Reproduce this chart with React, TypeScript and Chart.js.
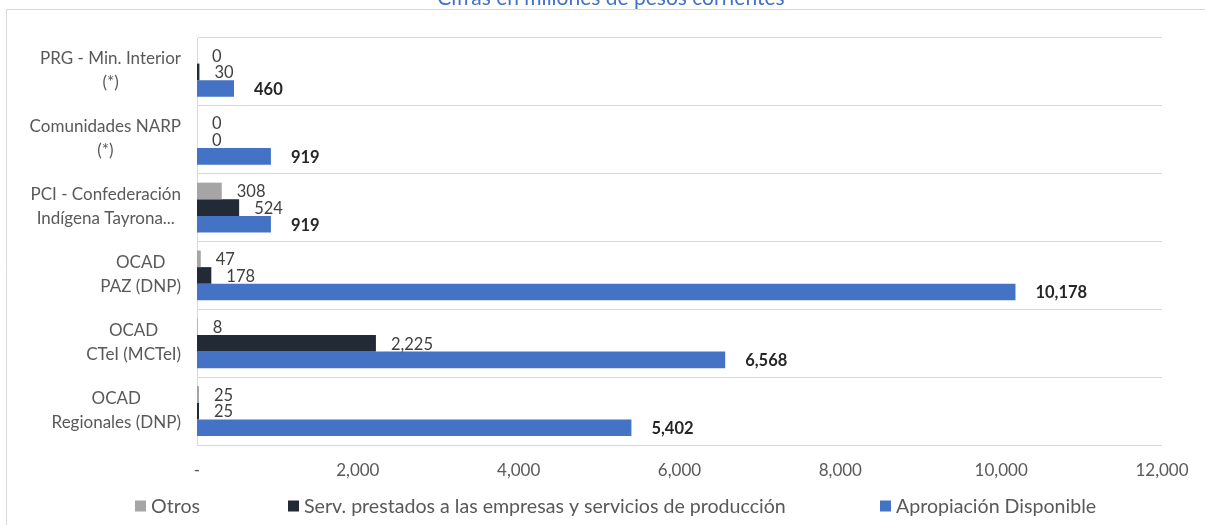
import React, { useEffect, useRef } from 'react';
import { Chart, registerables } from 'chart.js';

Chart.register(...registerables);

const chartTitle = 'Cifras en millones de pesos corrientes';
const categories: string[][] = [
  ['PRG - Min. Interior', '(*)'],
  ['Comunidades NARP', '(*)'],
  ['PCI - Confederación', 'Indígena Tayrona...'],
  ['OCAD', 'PAZ (DNP)'],
  ['OCAD', 'CTeI (MCTeI)'],
  ['OCAD', 'Regionales (DNP)'],
];
const seriesNames = [
  'Otros',
  'Serv. prestados a las empresas y servicios de producción',
  'Apropiación Disponible',
];
const otros = [0, 0, 308, 47, 8, 25];
const servicios = [30, 0, 524, 178, 2225, 25];
const apropiacion = [460, 919, 919, 10178, 6568, 5402];
const xMin = 0;
const xMax = 12000;
const xStep = 2000;

const seriesColors = ['#A5A5A5', '#222A35', '#4472C4'];
const FONT = 'Lato';

const fmt = (v: number) => (v === 0 ? '-' : v.toLocaleString('en-US'));

const framePlugin = {
  id: 'framePlugin',
  beforeDraw(chart: any) {
    const { ctx, width, height } = chart;
    ctx.save();
    ctx.fillStyle = '#FFFFFF';
    ctx.fillRect(0, 0, width, height);
    ctx.strokeStyle = '#D9D9D9';
    ctx.lineWidth = 1;
    ctx.beginPath();
    ctx.moveTo(6.5, height);
    ctx.lineTo(6.5, 9.5);
    ctx.lineTo(width, 9.5);
    ctx.stroke();
    ctx.fillStyle = '#4472C4';
    ctx.font = `21px ${FONT}`;
    ctx.textAlign = 'center';
    ctx.textBaseline = 'alphabetic';
    ctx.fillText(chartTitle, 611, 5);
    ctx.restore();
  },
};

const labelsPlugin = {
  id: 'labelsPlugin',
  afterDraw(chart: any) {
    const { ctx, chartArea } = chart;
    const yScale = chart.scales.y;
    ctx.save();
    // category labels: block right-aligned, lines centred inside block
    ctx.font = `17px ${FONT}`;
    ctx.fillStyle = '#595959';
    ctx.textAlign = 'center';
    ctx.textBaseline = 'middle';
    const rightEdge = chartArea.left - 16;
    const lineH = 24;
    categories.forEach((lines, i) => {
      const yc = yScale.getPixelForValue(i) - 1;
      const w = Math.max(...lines.map((l) => ctx.measureText(l).width));
      const cx = rightEdge - w / 2;
      lines.forEach((l, j) => {
        ctx.fillText(l, cx, yc + (j - (lines.length - 1) / 2) * lineH);
      });
    });
    // data labels
    ctx.textAlign = 'left';
    chart.data.datasets.forEach((ds: any, di: number) => {
      const meta = chart.getDatasetMeta(di);
      const bold = di === 2;
      ctx.font = `${bold ? 'bold ' : ''}16.5px ${FONT}`;
      ctx.fillStyle = bold ? '#262626' : '#404040';
      meta.data.forEach((bar: any, i: number) => {
        const v = ds.data[i] as number;
        ctx.fillText(v.toLocaleString('en-US'), bar.x + (bold ? 20 : 15), bar.y + 1);
      });
    });
    // legend
    const legendStarts = [135, 288, 880];
    const ly = 506;
    ctx.font = `19.6px ${FONT}`;
    ctx.textBaseline = 'middle';
    seriesNames.forEach((name, i) => {
      const x = legendStarts[i];
      ctx.fillStyle = seriesColors[i];
      ctx.fillRect(x, ly - 5.5, 11, 11);
      ctx.fillStyle = '#595959';
      ctx.fillText(name, x + 16, ly + 1);
    });
    ctx.restore();
  },
};

export default function App() {
  const canvasRef = useRef<HTMLCanvasElement | null>(null);

  useEffect(() => {
    if (!canvasRef.current) return;
    const seriesData = [otros, servicios, apropiacion];
    const chart = new Chart(canvasRef.current, {
      type: 'bar',
      data: {
        labels: categories,
        datasets: seriesNames.map((name, i) => ({
          label: name,
          data: seriesData[i],
          backgroundColor: seriesColors[i],
          borderWidth: 0,
          categoryPercentage: 0.735,
          barPercentage: 1.0,
        })),
      },
      options: {
        indexAxis: 'y',
        animation: false,
        responsive: true,
        maintainAspectRatio: false,
        layout: { padding: { top: 38, right: 43, bottom: 38, left: 0 } },
        plugins: {
          legend: { display: false },
          title: { display: false },
          tooltip: { enabled: false },
        },
        scales: {
          x: {
            type: 'linear',
            min: xMin,
            max: xMax,
            ticks: {
              stepSize: xStep,
              callback: (v: any) => fmt(Number(v)),
              color: '#595959',
              font: { family: FONT, size: 17 },
              padding: 15,
              maxRotation: 0,
            },
            grid: { display: false, drawTicks: false },
            border: { display: false },
            afterFit: (s: any) => {
              s.height = 42;
            },
          },
          y: {
            type: 'category',
            ticks: { display: false },
            grid: { color: '#D9D9D9', lineWidth: 1, drawTicks: false, offset: true },
            border: { display: true, color: '#D9D9D9', width: 1 },
            afterFit: (s: any) => {
              s.width = 197;
            },
          },
        },
      },
      plugins: [framePlugin, labelsPlugin],
    });
    return () => chart.destroy();
  }, []);

  return (
    <div style={{ position: 'absolute', left: 0, top: 0, width: 1205, height: 525 }}>
      <canvas ref={canvasRef} />
    </div>
  );
}
